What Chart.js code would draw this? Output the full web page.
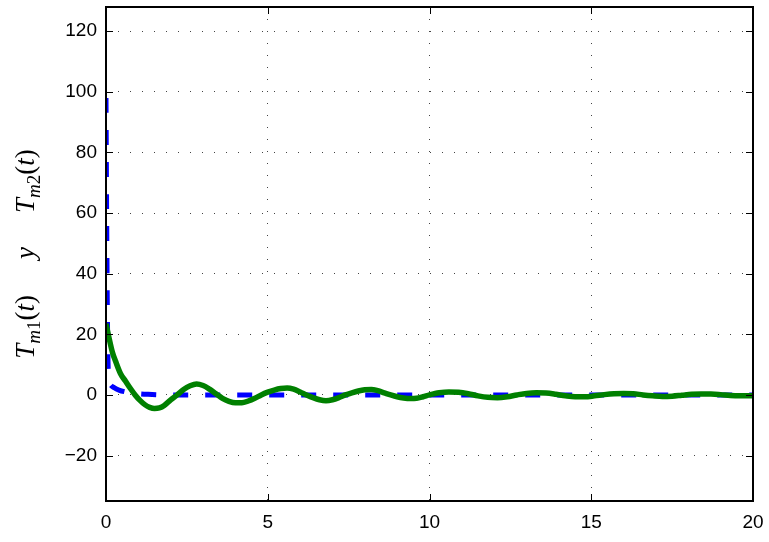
<!DOCTYPE html>
<html>
<head>
<meta charset="utf-8">
<script src="https://cdn.jsdelivr.net/npm/chart.js@4"></script>
<style>
  body { margin: 0; background: #fff; }
  canvas { display: block; }
</style>
</head>
<body>
<canvas id="chart" width="769" height="542"></canvas>
<script>
// datos
const blueT = [0, 0.02, 0.04, 0.06, 0.09, 0.15, 0.25, 0.4, 0.6, 0.9, 1.3, 2, 20];
const blueY = [98, 60, 30, 12, 5, 3.2, 2.4, 1.6, 1.0, 0.5, 0.2, 0, 0];

const greenT = [0, 0.1, 0.2, 0.3, 0.45, 0.6, 0.75, 0.9, 1.05, 1.2, 1.35, 1.5, 1.65, 1.8, 2.0, 2.2, 2.4, 2.6, 2.8,
  3.0, 3.2, 3.4, 3.6, 3.8, 4.0, 4.2, 4.4, 4.6, 4.8, 5.0, 5.2, 5.4, 5.6, 5.8, 6.0, 6.2, 6.4, 6.6, 6.8,
  7.0, 7.2, 7.4, 7.6, 7.8, 8.0, 8.2, 8.4, 8.6, 8.8, 9.0, 9.2, 9.4, 9.6, 9.8, 10.0, 10.3, 10.6, 10.9,
  11.2, 11.5, 11.8, 12.1, 12.4, 12.7, 13.0, 13.3, 13.6, 13.9, 14.2, 14.5, 14.8, 15.1, 15.4, 15.7,
  16.0, 16.3, 16.6, 16.9, 17.2, 17.5, 17.8, 18.1, 18.4, 18.7, 19.0, 19.3, 19.6, 20];
const greenY = [23.5, 18.5, 14, 11, 7.0, 4.6, 2.2, 0, -1.8, -3.2, -4.1, -4.5, -4.3, -3.5, -1.6, 0, 1.8, 3.0, 3.6,
  3.1, 1.9, 0.4, -1.1, -2.1, -2.6, -2.6, -2.0, -1.1, 0, 0.9, 1.6, 2.1, 2.3, 1.9, 1.0, 0, -0.9, -1.6, -1.9,
  -1.6, -0.9, 0, 0.7, 1.3, 1.7, 1.8, 1.4, 0.7, 0, -0.6, -1.0, -1.2, -1.1, -0.6, 0, 0.7, 1.0, 0.9,
  0.4, -0.3, -0.8, -0.9, -0.6, 0, 0.5, 0.7, 0.6, 0.2, -0.3, -0.6, -0.6, -0.3, 0.1, 0.4,
  0.5, 0.4, 0, -0.3, -0.5, -0.4, -0.1, 0.2, 0.3, 0.3, 0.1, -0.2, -0.3, -0.3];

const xTicks = [0, 5, 10, 15, 20];
const yTicks = [-20, 0, 20, 40, 60, 80, 100, 120];

const tickFont = { family: '"Liberation Sans", Arial, sans-serif', size: 19 };

// marco tipo MATLAB, ticks hacia dentro y etiqueta del eje Y
const matlabFrame = {
  id: 'matlabFrame',
  afterDraw(chart) {
    const ctx = chart.ctx;
    const a = chart.chartArea;
    const xs = chart.scales.x, ys = chart.scales.y;
    ctx.save();
    ctx.strokeStyle = '#000';
    ctx.lineWidth = 2;
    ctx.strokeRect(a.left, a.top, a.right - a.left, a.bottom - a.top);
    ctx.lineWidth = 1;
    ctx.beginPath();
    const len = 7;
    xTicks.forEach(v => {
      const px = Math.round(xs.getPixelForValue(v)) + 0.5;
      ctx.moveTo(px, a.bottom); ctx.lineTo(px, a.bottom - len);
      ctx.moveTo(px, a.top); ctx.lineTo(px, a.top + len);
    });
    yTicks.forEach(v => {
      const py = Math.round(ys.getPixelForValue(v)) + 0.5;
      ctx.moveTo(a.left, py); ctx.lineTo(a.left + len, py);
      ctx.moveTo(a.right, py); ctx.lineTo(a.right - len, py);
    });
    ctx.stroke();

    // etiqueta Y: T_{m1}(t)  y  T_{m2}(t)
    const big = 27, small = 19;
    const ser = '"Liberation Serif", "DejaVu Serif", serif';
    const it = s => 'italic ' + s + 'px ' + ser;
    const up = s => s + 'px ' + ser;
    const runs = [
      { t: 'T', f: it(big), dy: 0 }, { t: 'm', f: it(small), dy: 6 }, { t: '1', f: up(small), dy: 6 },
      { t: '(', f: up(big), dy: 0 }, { t: 't', f: it(big), dy: 0 }, { t: ')', f: up(big), dy: 0 },
      { gap: 36 },
      { t: 'y', f: it(big), dy: 0 },
      { gap: 34 },
      { t: 'T', f: it(big), dy: 0 }, { t: 'm', f: it(small), dy: 6 }, { t: '2', f: up(small), dy: 6 },
      { t: '(', f: up(big), dy: 0 }, { t: 't', f: it(big), dy: 0 }, { t: ')', f: up(big), dy: 0 }
    ];
    let total = 0;
    runs.forEach(r => {
      if (r.gap) { r.w = r.gap; } else { ctx.font = r.f; r.w = ctx.measureText(r.t).width; }
      total += r.w;
    });
    ctx.translate(34, (a.top + a.bottom) / 2);
    ctx.rotate(-Math.PI / 2);
    ctx.fillStyle = '#000';
    ctx.textBaseline = 'alphabetic';
    ctx.textAlign = 'left';
    let x = -total / 2;
    runs.forEach(r => {
      if (!r.gap) { ctx.font = r.f; ctx.fillText(r.t, x, r.dy); }
      x += r.w;
    });
    ctx.restore();
  }
};

new Chart(document.getElementById('chart'), {
  type: 'line',
  data: {
    datasets: [
      {
        label: 'Tm2',
        data: greenT.map((t, i) => ({ x: t, y: greenY[i] })),
        borderColor: '#008000',
        borderWidth: 5.5,
        pointRadius: 0,
        cubicInterpolationMode: 'monotone',
        fill: false
      },
      {
        label: 'Tm1',
        data: blueT.map((t, i) => ({ x: t, y: blueY[i] })),
        borderColor: '#0000ff',
        borderWidth: 5,
        borderDash: [15, 17],
        borderCapStyle: 'butt',
        pointRadius: 0,
        cubicInterpolationMode: 'monotone',
        fill: false
      }
    ]
  },
  options: {
    responsive: false,
    animation: false,
    layout: { padding: { top: 7, right: 16, left: 0, bottom: 0 } },
    plugins: { legend: { display: false }, tooltip: { enabled: false } },
    scales: {
      x: {
        type: 'linear',
        min: 0, max: 20,
        afterBuildTicks: s => { s.ticks = xTicks.map(v => ({ value: v })); },
        afterFit: s => { s.height = 41; s.paddingLeft = 0; s.paddingRight = 0; },
        ticks: { font: tickFont, color: '#000', padding: 10, maxRotation: 0 },
        grid: { color: '#444', lineWidth: 1, drawTicks: false },
        border: { display: false, dash: [1, 11] }
      },
      y: {
        type: 'linear',
        min: -35, max: 128,
        afterBuildTicks: s => { s.ticks = yTicks.map(v => ({ value: v })); },
        afterFit: s => { s.width = 106; s.paddingTop = 0; s.paddingBottom = 0; },
        ticks: {
          font: tickFont, color: '#000', padding: 9,
          callback: v => (v < 0 ? '\u2212' + Math.abs(v) : '' + v)
        },
        grid: { color: '#444', lineWidth: 1, drawTicks: false },
        border: { display: false, dash: [1, 11] }
      }
    }
  },
  plugins: [matlabFrame]
});
</script>
</body>
</html>
